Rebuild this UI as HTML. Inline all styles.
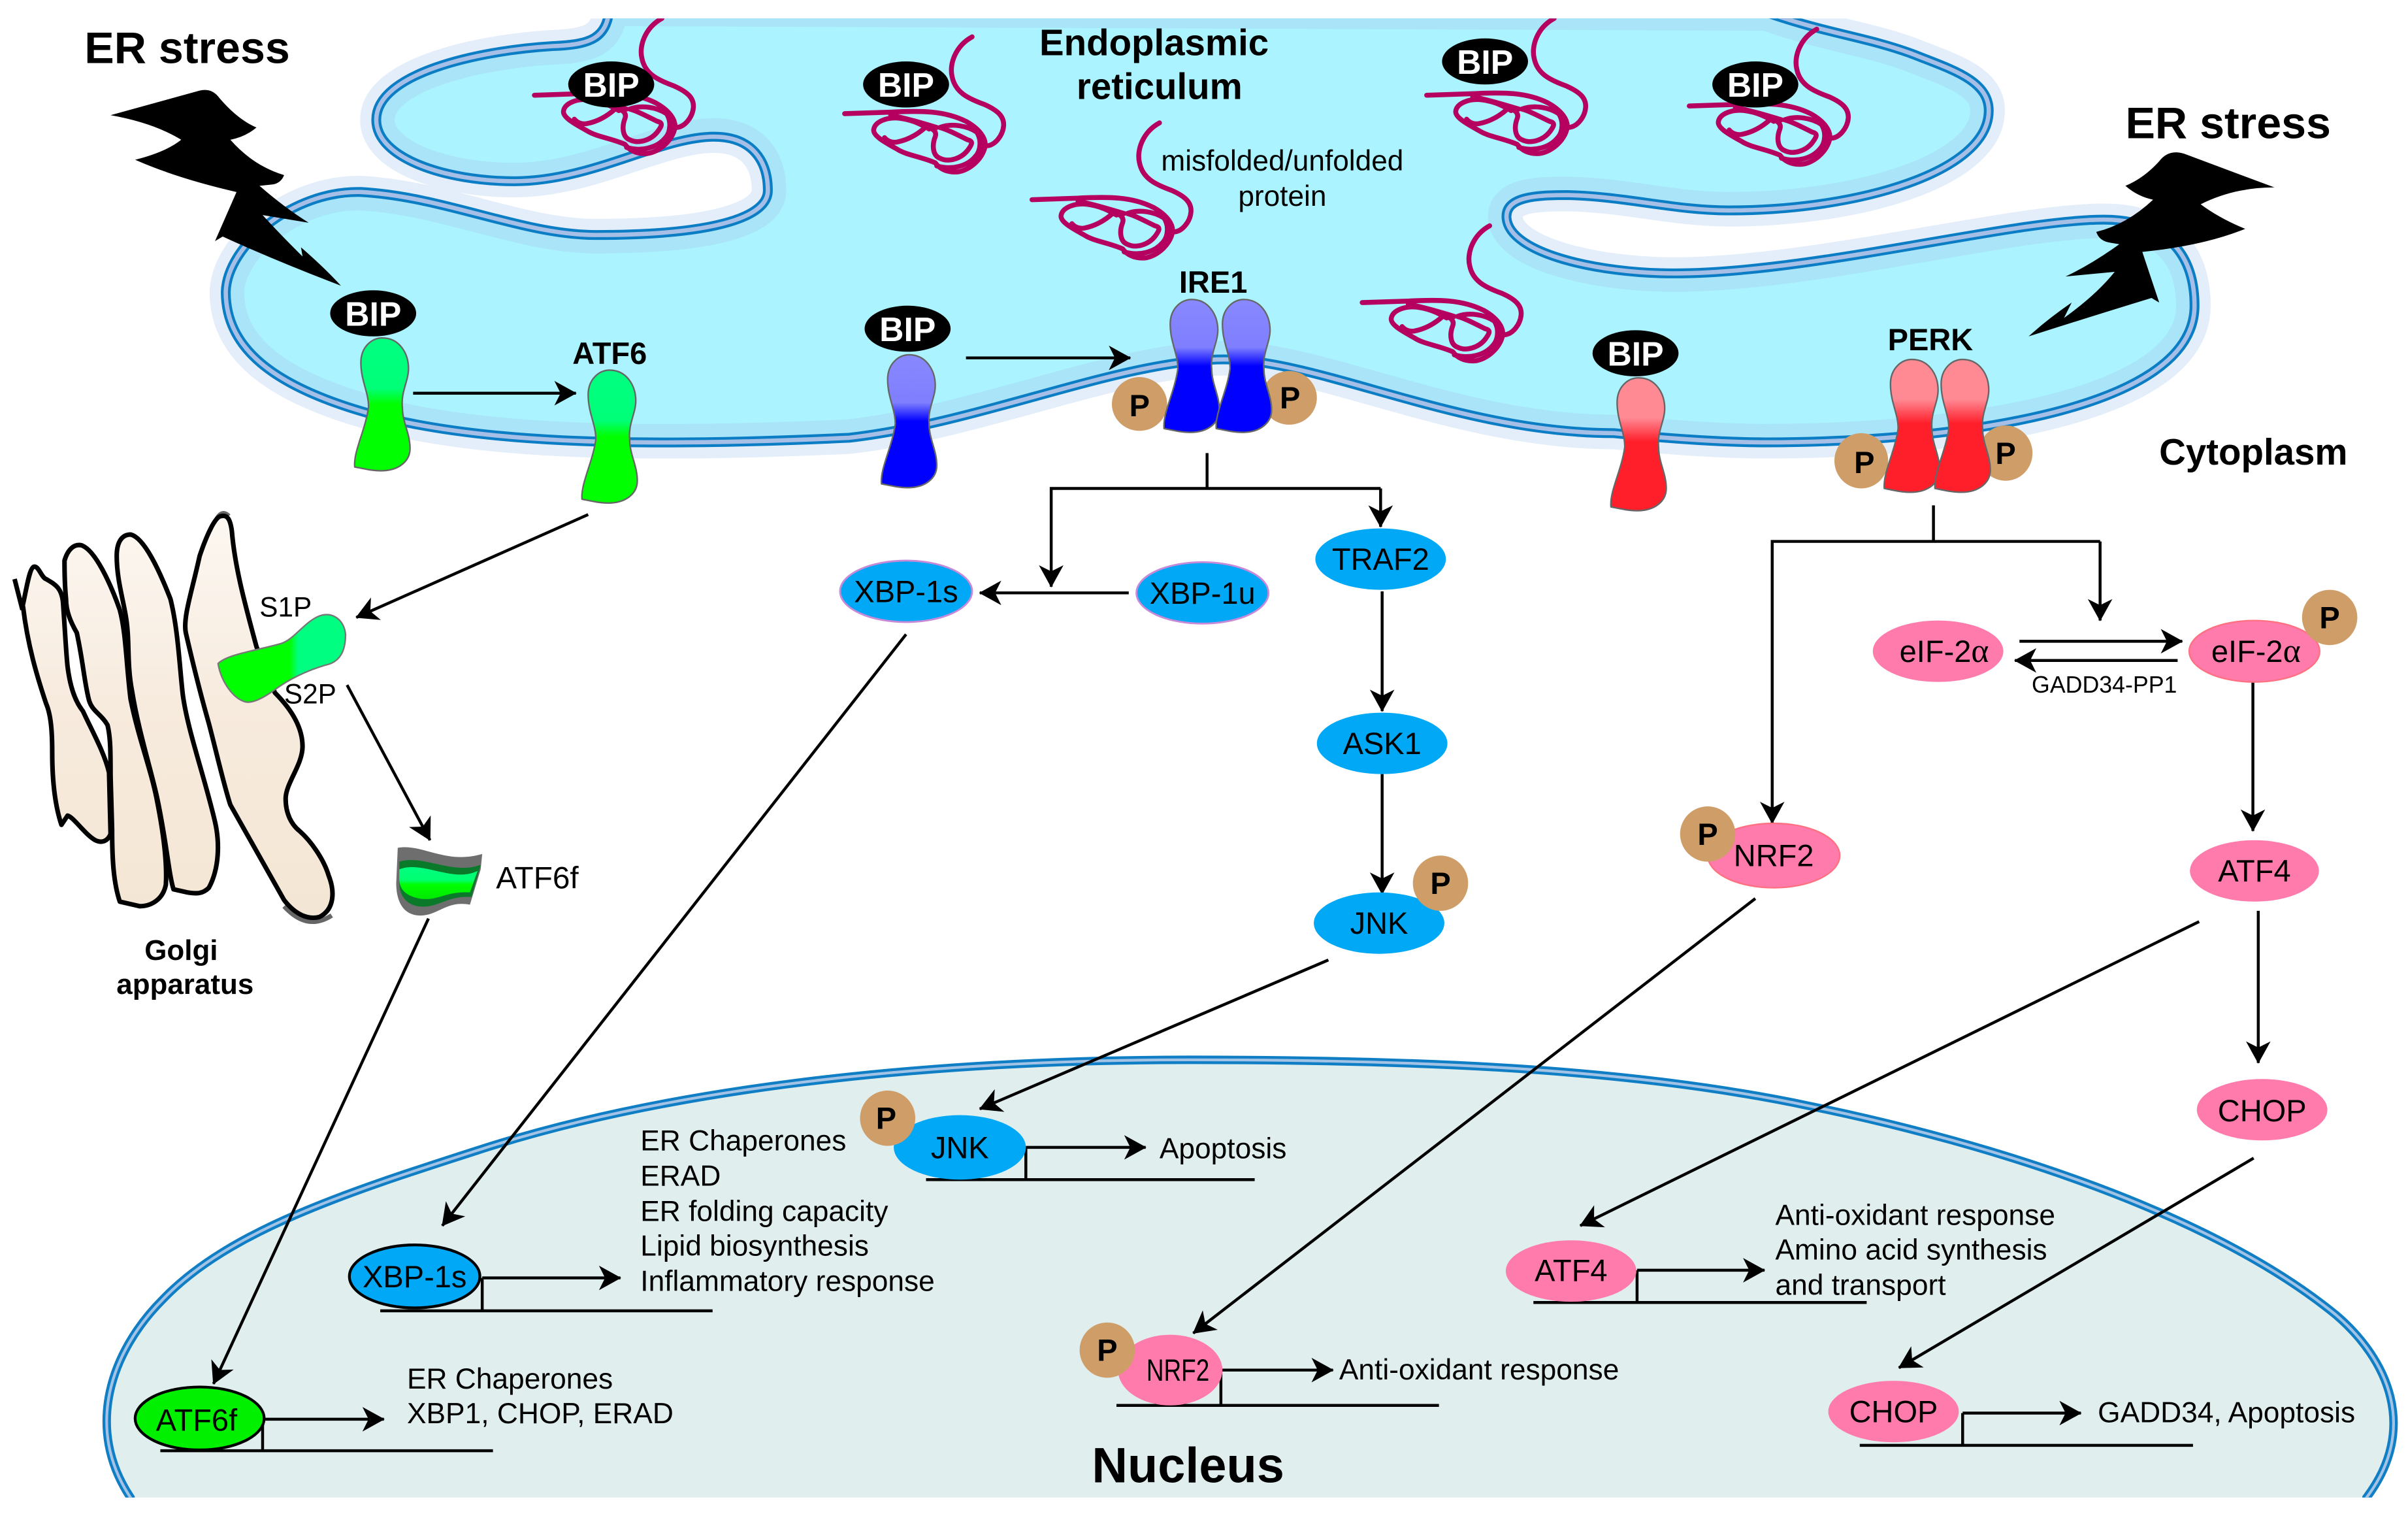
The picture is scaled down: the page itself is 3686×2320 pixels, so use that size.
<!DOCTYPE html>
<html><head><meta charset="utf-8"><title>ER stress pathways</title>
<style>
html,body{margin:0;padding:0;background:#fff}
svg{display:block}
text{font-family:"Liberation Sans",Arial,sans-serif;fill:#000}
.b{font-weight:700}
.m{text-anchor:middle}
.w{fill:#fff}
.p{fill:#cf9e68}
.pk{fill:#ff7bac}
.bl{fill:#00a8f5}
.sf{font-family:"Liberation Serif",serif;font-size:22px}
</style></head><body>
<svg xmlns="http://www.w3.org/2000/svg" width="3686" height="2320" viewBox="0 0 1568 987" preserveAspectRatio="none">
<defs>
<linearGradient id="gG" x1="0" y1="0" x2="0" y2="1"><stop offset="0" stop-color="#00ff80"/><stop offset=".38" stop-color="#00ff78"/><stop offset=".5" stop-color="#00ff00"/><stop offset="1" stop-color="#00ff00"/></linearGradient>
<linearGradient id="gB" x1="0" y1="0" x2="0" y2="1"><stop offset="0" stop-color="#8888ff"/><stop offset=".36" stop-color="#7f7fff"/><stop offset=".5" stop-color="#0000ff"/><stop offset="1" stop-color="#0000ff"/></linearGradient>
<linearGradient id="gR" x1="0" y1="0" x2="0" y2="1"><stop offset="0" stop-color="#ff8a94"/><stop offset=".3" stop-color="#ff8a94"/><stop offset=".48" stop-color="#ff1f2b"/><stop offset="1" stop-color="#ff1f2b"/></linearGradient>
<linearGradient id="gH" x1="0" y1="0" x2="1" y2="0"><stop offset="0" stop-color="#00ff00"/><stop offset=".56" stop-color="#00ff00"/><stop offset=".63" stop-color="#00ff80"/><stop offset="1" stop-color="#00ff80"/></linearGradient>
<linearGradient id="gF" x1="0" y1="0" x2="0" y2="1"><stop offset="0" stop-color="#00ff80"/><stop offset=".4" stop-color="#00ff70"/><stop offset=".55" stop-color="#00ff00"/><stop offset="1" stop-color="#00e800"/></linearGradient>
<linearGradient id="gC" gradientUnits="userSpaceOnUse" x1="0" y1="340" x2="0" y2="600"><stop offset="0" stop-color="#fcf7f1"/><stop offset=".45" stop-color="#f7ebde"/><stop offset="1" stop-color="#f4e6d4"/></linearGradient>
<marker id="a" markerUnits="userSpaceOnUse" markerWidth="18" markerHeight="18" refX="14" refY="8" orient="auto"><path d="M0,0 L14.5,8 L0,16 L4,8Z" fill="#000"/></marker>
<clipPath id="frame"><rect x="0" y="12" width="1568" height="963"/></clipPath>
<path id="er" d="M397,5 C395,25 385,29 360,30 C310,33 245,48 245,78 C245,103 290,118 335,118 C385,118 430,89 465,89 C490,89 500,105 500,124 C500,140 470,153 388,153 C340,153 290,128 235,125 C190,124 148,160 147,190 C147,225 175,252 247,271 C310,287 400,292 553,285 C640,275 730,234 797,234 C860,234 950,282 1051,282 C1090,286 1126,288 1150,288 C1260,288 1429,270 1429,199 C1429,165 1410,143 1370,143 C1310,143 1180,178 1090,178 C1040,178 983,165 981,142 C980,128 1000,127 1021,127 C1060,128 1090,137 1126,137 C1210,137 1295,112 1295,72 C1295,52 1270,45 1245,35 C1215,24 1190,22 1150,8 Z"/>
<clipPath id="erc"><use href="#er"/></clipPath>
<path id="nu" d="M85,975 C55,930 72,880 106,846 C150,800 230,775 317,747 C450,705 620,690 775,690 C920,690 1060,695 1178,720 C1300,745 1440,790 1521,856 C1555,885 1575,930 1541,975 L1541,1000 L85,1000Z"/>
<path id="rc" d="M1,0 C12,0 18,10 18,20 C18,28 13,35 14,45 C14,55 19,62 19,72 C19,80 12,86.5 0,86.5 C-6,86.5 -12,85 -17,84 C-18,74 -10,60 -8,45 C-8,35 -13,28 -13,16 C-13,6 -6,0 1,0 Z" stroke="#666" stroke-width="1"/>
<g id="pr" fill="none" stroke="#b5005f" stroke-width="3.2" stroke-linecap="round" stroke-linejoin="round">
<path d="M83,-50 C72,-44 68,-32 70,-24 C72,-14 80,-10 91,-6 C100,-2 104,2 103.5,8 C103,14 98,21 92,21"/>
<path d="M0,0 L30,-1 C50,-2 65,-2 79,5 C88,10 92,16 91.5,21 C90,30 80,38 72,38 C66,38 62,36 59,32 C50,28 40,27 34,23 C25,18 18,14 19,10 C20,5 28,2 36,3 C44,4 50,7 55,10"/>
<path d="M26,15.6 C28,18 31,19 34,18.5 C42,17 48,13 52.5,9 C58,9 60,12 59,15 C57,20 57,27 62,29 C68,32 76,29 80,24 C83,20 84,18 80,17 C72,13 66,10 62,9 C70,6 80,8 86,12 C89,16 89,24 85,28 C80,34 70,37 60,34"/>
<path d="M85,10 C89,16 90,25 87,30"/>
<path d="M30,1 C40,3 50,6 60,9"/>
</g>
</defs>
<rect width="1568" height="987" fill="#fff"/>

<!-- Nucleus -->
<g clip-path="url(#frame)">
<use href="#nu" fill="#e0eeee"/>
<use href="#nu" fill="none" stroke="#0f7ec4" stroke-width="5.5"/>
<use href="#nu" fill="none" stroke="#a3c3e6" stroke-width="1.8"/>
</g>

<!-- ER -->
<g clip-path="url(#frame)">
<use href="#er" fill="none" stroke="#e3eefa" stroke-width="21"/>
<use href="#er" fill="#aaf3ff"/>
<g clip-path="url(#erc)"><use href="#er" fill="none" stroke="#a9e4f8" stroke-width="24"/></g>
<use href="#er" fill="none" stroke="#0a7dc4" stroke-width="6.4"/>
<use href="#er" fill="none" stroke="#a5bfe6" stroke-width="2.8"/>
</g>

<!-- Proteins -->
<g clip-path="url(#frame)">
<use href="#pr" x="348" y="62"/>
<use href="#pr" x="550" y="74"/>
<use href="#pr" x="672" y="130"/>
<use href="#pr" x="929" y="62"/>
<use href="#pr" x="1100" y="69"/>
<use href="#pr" x="887" y="197"/>
</g>

<!-- Lightning -->
<path d="M72,75 L130,59 Q138,57 143,64 Q155,78 167,83 Q160,89 150,91 Q165,108 185,114 Q183,119 178,120 L169,121 Q185,135 201,145 L171,140 Q180,150 197,167 L196,161 Q212,175 222,186 Q180,170 145,154 L140,157 L154,125 Q115,116 88,104 Q108,99 118,91 Q100,80 72,75Z" fill="#000"/>
<path d="M1481,122 L1422,100 Q1412,97 1406,105 Q1396,116 1384,121 Q1392,128 1402,130 Q1385,146 1365,151 Q1367,157 1374,158 L1380,159 Q1362,172 1345,180 L1377,177 Q1365,192 1344,207 L1349,197 Q1333,208 1321,219 Q1365,205 1401,194 L1406,197 L1395,164 Q1435,160 1462,149 Q1445,142 1433,133 Q1455,122 1481,122Z" fill="#000"/>

<!-- P behind dimers -->
<ellipse class="p" cx="742" cy="263" rx="18" ry="17.5"/>
<ellipse class="p" cx="839.5" cy="259" rx="18" ry="17.5"/>
<ellipse class="p" cx="1212" cy="300" rx="17.5" ry="18"/>
<ellipse class="p" cx="1306" cy="295" rx="17.5" ry="18"/>

<!-- Receptors -->
<use href="#rc" x="248" y="220" fill="url(#gG)"/>
<use href="#rc" x="396" y="241" fill="url(#gG)"/>
<use href="#rc" x="591" y="231" fill="url(#gB)"/>
<use href="#rc" x="775" y="195" fill="url(#gB)"/>
<use href="#rc" x="809" y="195" fill="url(#gB)"/>
<use href="#rc" x="1066" y="246" fill="url(#gR)"/>
<use href="#rc" x="1244" y="234" fill="url(#gR)"/>
<use href="#rc" x="1277" y="234" fill="url(#gR)"/>

<!-- BIP -->
<g fill="#000">
<ellipse cx="398" cy="55" rx="28" ry="15"/><ellipse cx="590" cy="55" rx="28" ry="15"/><ellipse cx="967" cy="40" rx="28" ry="15"/><ellipse cx="1143" cy="55" rx="28" ry="15"/><ellipse cx="243" cy="204" rx="28" ry="15"/><ellipse cx="591" cy="214" rx="28" ry="15"/><ellipse cx="1065" cy="230" rx="28" ry="15"/>
</g>
<g font-size="22" class="b">
<text class="w m b" x="398" y="63">BIP</text><text class="w m b" x="590" y="63">BIP</text><text class="w m b" x="967" y="48">BIP</text><text class="w m b" x="1143" y="63">BIP</text><text class="w m b" x="243" y="212">BIP</text><text class="w m b" x="591" y="222">BIP</text><text class="w m b" x="1065" y="238">BIP</text>
</g>

<!-- Golgi -->
<path d="M185,590 C195,601 205,603 216,596" fill="none" stroke="#666" stroke-width="3"/>
<path d="M140,340 Q144,331 149,336" fill="none" stroke="#666" stroke-width="3"/>
<g fill="url(#gC)" stroke="#000" stroke-width="3" stroke-linejoin="round">
<path d="M14.6,395 C17,385 19,370 22,369 C25,368 27,376 30,377 C35,380 40,382 41,392 C42,405 43,425 44,434 C46,450 50,458 54,463 C60,476 68,490 71,503 L72,543 C70,548 66,549 62,547 C55,543 48,532 44,531 L40,537 C36,525 34,510 34,490 C34,475 33,465 30,458 C24,440 18,420 15,395Z"/>
<path d="M42,365 C44,358 48,354 53,355 C62,358 72,380 78,397 C82,412 82,430 85,455 C90,480 98,500 102,520 C106,540 109,560 108,576 C106,586 98,590 91,590 L78,587 C74,575 73,560 73,540 L72,505 C72,490 72,480 70,472 C66,465 60,463 58,456 C55,445 54,430 50,412 C46,405 43,398 43,390 C42,380 42,372 42,365Z"/>
<path d="M76,362 C76,352 80,348 85,348 C94,350 104,372 111,390 C116,410 117,435 119,452 C122,475 133,505 140,535 C143,548 143,565 136,578 C132,582 128,582 122,581 L113,579 C110,570 108,545 102,518 C98,500 90,475 86,450 C83,435 84,420 83,410 C82,395 76,380 76,362Z"/>
<path d="M144,336 C148,335 150,338 151,346 C153,370 160,395 167,421 L179,451 C188,460 197,472 197,486 C197,498 186,510 186,520 C186,530 190,537 195,541 C203,548 211,560 214,570 C218,580 218,592 208,597 C200,599 192,595 185,586 L150,524 C146,512 141,490 136,471 C130,450 124,425 121,412 C119,402 125,385 130,362 C134,350 140,336 144,336Z"/>
</g>
<path d="M9.5,377 L14.6,397" stroke="#000" stroke-width="3" fill="none"/>

<!-- S1P/S2P protein -->
<path d="M142,432 C148,426 165,424 183,419 C192,416 198,405 208,401 C216,398 224,403 225,413 C225,423 222,431 212,433 C202,436 190,441 179,449 C172,454 165,458 160,457 C152,455 144,444 142,432Z" fill="url(#gH)" stroke="#777" stroke-width="1"/>

<!-- ATF6f fragment -->
<path d="M259,552 C275,549 290,563 314,556 L313,566 L306,589 C290,586 285,597 272,596 C262,595 258,586 258,575Z" fill="#6e6e6e"/>
<path d="M260,561 C275,556 295,570 313,563 L307,584 C290,583 285,592 272,590 C262,588 260,580 260,575 Z" fill="#0a7a2a"/>
<path d="M260,566 C275,560 295,575 311,567 L306,581 C290,580 285,587 273,585 C263,583 260,578 260,572Z" fill="url(#gF)"/>

<!-- Connectors -->
<g stroke="#000" stroke-width="1.9" fill="none">
<path d="M269,256H375" marker-end="url(#a)"/>
<path d="M629,233H736" marker-end="url(#a)"/>
<path d="M786,295V318"/>
<path d="M899,318H684.5V382" marker-end="url(#a)"/>
<path d="M899,318V343" marker-end="url(#a)"/>
<path d="M735,386H638" marker-end="url(#a)"/>
<path d="M900,385V463" marker-end="url(#a)"/>
<path d="M900,504V582" marker-end="url(#a)"/>
<path d="M590,413L288,798" marker-end="url(#a)"/>
<path d="M279,598L139,901" marker-end="url(#a)"/>
<path d="M383,335L232,402" marker-end="url(#a)"/>
<path d="M226,446L280,547" marker-end="url(#a)"/>
<path d="M865,625L638,722" marker-end="url(#a)"/>
<path d="M1259,329V352.5"/>
<path d="M1367.5,352.5H1154V536" marker-end="url(#a)"/>
<path d="M1367.5,352.5V404" marker-end="url(#a)"/>
<path d="M1315,417.5H1421" marker-end="url(#a)"/>
<path d="M1418,430H1312" marker-end="url(#a)"/>
<path d="M1467,444V541" marker-end="url(#a)"/>
<path d="M1470.5,593V692" marker-end="url(#a)"/>
<path d="M1143,585L777,868" marker-end="url(#a)"/>
<path d="M1432,600L1029,798" marker-end="url(#a)"/>
<path d="M1467.5,754L1236.5,890.5" marker-end="url(#a)"/>
<!-- gene bars -->
<path d="M247.6,853.4H464M314,853.4V832"/><path d="M314,832H404" marker-end="url(#a)"/>
<path d="M104.4,944.5H321M171,944.5V924"/><path d="M172,924H250" marker-end="url(#a)"/>
<path d="M603,768H817M668,768V747"/><path d="M668,747H746" marker-end="url(#a)"/>
<path d="M727,915H937M795,915V892"/><path d="M795,892H868" marker-end="url(#a)"/>
<path d="M998.5,848H1215.5M1066,848V827"/><path d="M1066,827H1149" marker-end="url(#a)"/>
<path d="M1211,941H1428M1278,941V920"/><path d="M1278,920H1355" marker-end="url(#a)"/>
</g>

<!-- Nodes -->
<ellipse class="bl" cx="590" cy="385" rx="43" ry="20" stroke="#c88ad8" stroke-width="1.2"/>
<ellipse class="bl" cx="783" cy="386" rx="43" ry="20" stroke="#c88ad8" stroke-width="1.2"/>
<ellipse class="bl" cx="899" cy="364" rx="42.5" ry="20"/>
<ellipse class="bl" cx="900" cy="484" rx="42.5" ry="20"/>
<ellipse class="bl" cx="898" cy="601" rx="42.5" ry="20"/>
<ellipse class="pk" cx="1262" cy="424" rx="42.5" ry="20"/>
<ellipse class="pk" cx="1468" cy="424" rx="42.5" ry="20" stroke="#ff7080" stroke-width="1"/>
<ellipse class="pk" cx="1155" cy="557" rx="43" ry="21" stroke="#ff7080" stroke-width="1"/>
<ellipse class="pk" cx="1468" cy="567" rx="42" ry="20"/>
<ellipse class="pk" cx="1473" cy="722.5" rx="42.5" ry="20"/>
<ellipse class="bl" cx="270" cy="831" rx="42.5" ry="20.5" stroke="#000" stroke-width="1.8"/>
<ellipse cx="130" cy="923.5" rx="42" ry="20.5" fill="#00f000" stroke="#000" stroke-width="1.8"/>
<ellipse class="bl" cx="625" cy="747" rx="43" ry="21"/>
<ellipse class="pk" cx="762" cy="892" rx="34" ry="23"/>
<ellipse class="pk" cx="1023" cy="827.5" rx="42.5" ry="20"/>
<ellipse class="pk" cx="1233" cy="919" rx="42.5" ry="20"/>

<!-- free P circles -->
<circle class="p" cx="938" cy="575" r="18"/>
<circle class="p" cx="1517" cy="402" r="18"/>
<circle class="p" cx="1112" cy="543" r="18"/>
<circle class="p" cx="578" cy="728" r="18"/>
<circle class="p" cx="721" cy="879" r="18"/>
<g font-size="20" font-weight="700" text-anchor="middle">
<text x="742" y="271">P</text><text x="840" y="266">P</text><text x="1214" y="308">P</text><text x="1306" y="302">P</text>
<text x="938" y="582">P</text><text x="1517" y="409">P</text><text x="1112" y="550">P</text><text x="577" y="735">P</text><text x="721" y="886">P</text>
</g>

<!-- Node labels -->
<g font-size="20" text-anchor="middle">
<text x="590" y="392">XBP-1s</text><text x="783" y="393">XBP-1u</text><text x="899" y="371">TRAF2</text><text x="900" y="491">ASK1</text><text x="898" y="608">JNK</text>
<text x="1266" y="431">eIF-2<tspan class="sf">α</tspan></text><text x="1469" y="431">eIF-2<tspan class="sf">α</tspan></text><text x="1155" y="564">NRF2</text><text x="1468" y="574">ATF4</text><text x="1473" y="730">CHOP</text>
<text x="270" y="838">XBP-1s</text><text x="128" y="931.5">ATF6f</text><text x="625" y="754">JNK</text>
<text x="767" y="899" textLength="41" lengthAdjust="spacingAndGlyphs">NRF2</text><text x="1023" y="834">ATF4</text><text x="1233" y="926">CHOP</text>
</g>

<!-- Titles -->
<text class="b" font-size="29" x="55" y="41">ER stress</text>
<text class="b" font-size="29" x="1384" y="90">ER stress</text>
<text class="b m" font-size="24" x="751.5" y="36">Endoplasmic</text>
<text class="b m" font-size="24" x="755" y="64.5">reticulum</text>
<text class="m" font-size="18.8" x="835" y="111">misfolded/unfolded</text>
<text class="m" font-size="18.8" x="835" y="134">protein</text>
<text class="b m" font-size="20" x="397" y="237">ATF6</text>
<text class="b m" font-size="20" x="790" y="190.5">IRE1</text>
<text class="b m" font-size="20" x="1257" y="228">PERK</text>
<text class="b" font-size="24" x="1406" y="302.5">Cytoplasm</text>
<text class="b m" font-size="18.7" x="118" y="625">Golgi</text>
<text class="b m" font-size="18.7" x="120.5" y="647">apparatus</text>
<text font-size="18" x="169" y="401.5">S1P</text>
<text font-size="18" x="185" y="458">S2P</text>
<text font-size="20.3" x="323" y="578.4">ATF6f</text>
<text font-size="15.2" x="1323" y="451">GADD34-PP1</text>
<text class="b" font-size="32.2" x="711" y="965">Nucleus</text>

<!-- Gene output text -->
<g font-size="18.85">
<text x="417" y="749">ER Chaperones</text>
<text x="417" y="772">ERAD</text>
<text x="417" y="795">ER folding capacity</text>
<text x="417" y="817.5">Lipid biosynthesis</text>
<text x="417" y="840.5">Inflammatory response</text>
<text x="265" y="904">ER Chaperones</text>
<text x="265" y="926.5">XBP1, CHOP, ERAD</text>
<text x="755" y="754">Apoptosis</text>
<text x="872" y="898">Anti-oxidant response</text>
<text x="1156" y="797.5">Anti-oxidant response</text>
<text x="1156" y="820">Amino acid synthesis</text>
<text x="1156" y="843">and transport</text>
<text x="1366" y="926">GADD34, Apoptosis</text>
</g>
</svg>
</body></html>
